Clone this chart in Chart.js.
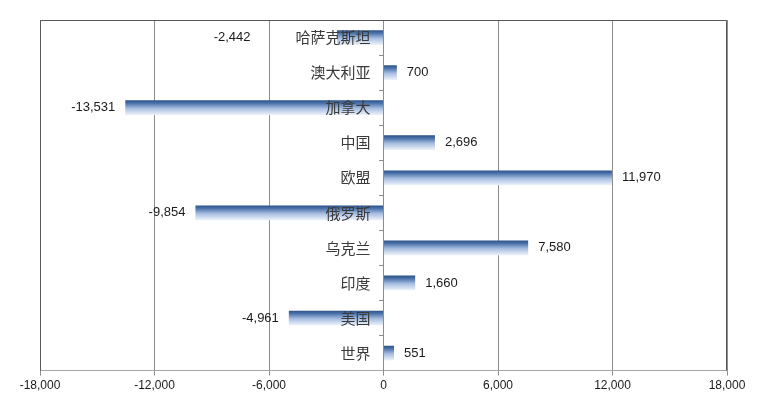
<!DOCTYPE html>
<html>
<head>
<meta charset="utf-8">
<script src="https://cdn.jsdelivr.net/npm/chart.js@4/dist/chart.umd.min.js"></script>
<style>
  html, body { margin: 0; padding: 0; background: #fff; }
  #wrap { width: 763px; height: 410px; }
</style>
</head>
<body>
<div id="wrap"><canvas id="mycanvas"></canvas></div>
<script>
// categories, top to bottom
var countries = ['哈萨克斯坦', '澳大利亚', '加拿大', '中国', '欧盟', '俄罗斯', '乌克兰', '印度', '美国', '世界'];
var values = [-2442, 700, -13531, 2696, 11970, -9854, 7580, 1660, -4961, 551];
var xTicks = [-18000, -12000, -6000, 0, 6000, 12000, 18000];

var BAR_PCT = 0.42;
var CAT_FONT = '15px "Noto Sans CJK SC", sans-serif';

function fmt(v) {
  return v.toLocaleString('en-US');
}

// vertical gradient per bar: dark top, light bottom
function barFill(c) {
  var ch = c.chart;
  if (!ch.chartArea || c.type !== 'data') return '#4f77ad';
  var ys = ch.scales.y;
  var yc = ys.getPixelForValue(c.dataIndex);
  var h = ys.height / countries.length * BAR_PCT;
  var top = yc - h / 2;
  var g = ch.ctx.createLinearGradient(0, top, 0, top + h);
  g.addColorStop(0, '#2c5187');
  g.addColorStop(0.2, '#4a72a9');
  g.addColorStop(0.55, '#a7bde0');
  g.addColorStop(1, '#eef3fb');
  return g;
}

// frame round the plot area
var frame = {
  id: 'frame',
  afterDraw: function(chart) {
    var a = chart.chartArea, ctx = chart.ctx;
    ctx.save();
    ctx.strokeStyle = '#595959';
    ctx.lineWidth = 1;
    ctx.beginPath();
    ctx.moveTo(a.left + 0.5, a.bottom);
    ctx.lineTo(a.left + 0.5, a.top + 0.5);
    ctx.lineTo(a.right - 0.5, a.top + 0.5);
    ctx.lineTo(a.right - 0.5, a.bottom);
    ctx.stroke();
    ctx.restore();
  }
};

// category names beside the zero line, over the bars
var catLabels = {
  id: 'catLabels',
  afterDatasetsDraw: function(chart) {
    var ctx = chart.ctx;
    var ys = chart.scales.y;
    var x0 = chart.scales.x.getPixelForValue(0);
    ctx.save();
    ctx.font = CAT_FONT;
    ctx.fillStyle = '#3a3a3a';
    ctx.textAlign = 'right';
    ctx.textBaseline = 'middle';
    countries.forEach(function(name, i) {
      ctx.fillText(name, x0 - 13, ys.getPixelForValue(i));
    });
    ctx.restore();
  }
};

// value labels beside the bar ends, kept clear of the category names
var valueLabels = {
  id: 'valueLabels',
  afterDatasetsDraw: function(chart) {
    var ctx = chart.ctx;
    var xs = chart.scales.x;
    var x0 = xs.getPixelForValue(0);
    ctx.save();
    ctx.textBaseline = 'middle';
    chart.getDatasetMeta(0).data.forEach(function(bar, i) {
      var v = values[i];
      var end = xs.getPixelForValue(v);
      if (v < 0) {
        ctx.font = CAT_FONT;
        var catLeft = x0 - 13 - ctx.measureText(countries[i]).width;
        var x = end - 10;
        if (x > catLeft - 10) x = catLeft - 45;
        ctx.font = '13px "Liberation Sans", Arial, sans-serif';
        ctx.fillStyle = '#1a1a1a';
        ctx.textAlign = 'right';
        ctx.fillText(fmt(v), x, bar.y);
      } else {
        ctx.font = '13px "Liberation Sans", Arial, sans-serif';
        ctx.fillStyle = '#1a1a1a';
        ctx.textAlign = 'left';
        ctx.fillText(fmt(v), end + 10, bar.y);
      }
    });
    ctx.restore();
  }
};

var chartdata = {
  labels: countries,
  datasets: [
    {
      label: 'value',
      data: values,
      backgroundColor: barFill,
      borderWidth: 0,
      barPercentage: BAR_PCT,
      categoryPercentage: 1
    }
  ]
};

var ctx = document.getElementById('mycanvas');
var barGraph = new Chart(ctx, {
  type: 'bar',
  data: chartdata,
  plugins: [frame, catLabels, valueLabels],
  options: {
    indexAxis: 'y',
    responsive: true,
    maintainAspectRatio: false,
    animation: false,
    layout: { padding: { left: 40, right: 36, top: 20, bottom: 14 } },
    plugins: {
      legend: { display: false },
      tooltip: { enabled: false }
    },
    scales: {
      x: {
        min: -18000,
        max: 18000,
        afterBuildTicks: function(axis) {
          axis.ticks = xTicks.map(function(v) { return { value: v }; });
        },
        grid: {
          color: '#8c8c8c',
          lineWidth: 1,
          tickLength: 5,
          drawTicks: true
        },
        border: { display: true, color: '#a6a6a6' },
        ticks: {
          padding: 3,
          color: '#1a1a1a',
          font: { family: '"Liberation Sans", Arial, sans-serif', size: 12 },
          callback: function(v) { return fmt(v); },
          maxRotation: 0,
          autoSkip: false
        }
      },
      y: {
        position: { x: 0 },
        grid: {
          drawOnChartArea: false,
          drawTicks: true,
          tickLength: 4,
          color: '#8c8c8c',
          offset: true
        },
        border: { display: true, color: '#8c8c8c' },
        ticks: { display: false }
      }
    }
  }
});
</script>
</body>
</html>
